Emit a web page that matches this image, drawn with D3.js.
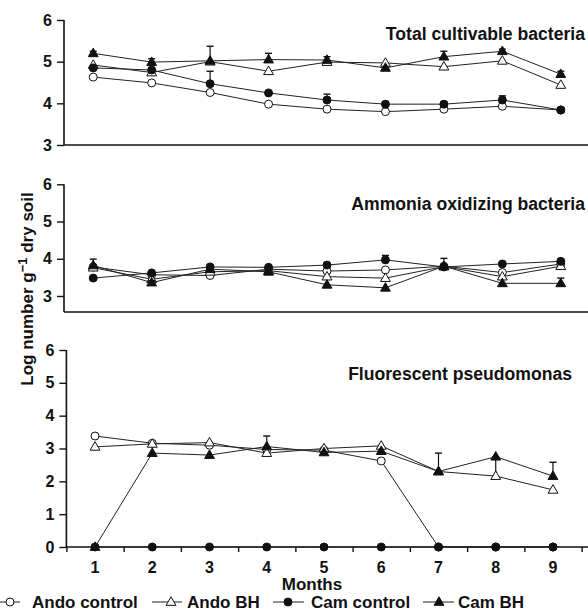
<!DOCTYPE html>
<html>
<head>
<meta charset="utf-8">
<script src="https://cdn.jsdelivr.net/npm/d3@7"></script>
<style>
  html, body { margin: 0; padding: 0; background: #fff; }
  svg { display: block; font-family: "Liberation Sans", Arial, sans-serif; font-weight: bold; }
</style>
</head>
<body>
<svg id="chart" width="588" height="611"></svg>
<script>
// Sampling months
const months = [1, 2, 3, 4, 5, 6, 7, 8, 9];
const seriesNames = ["Ando control", "Ando BH", "Cam control", "Cam BH"];

// Total cultivable bacteria (log number g-1 dry soil)
const totalAndoControl = [4.63, 4.49, 4.26, 3.98, 3.86, 3.80, 3.86, 3.93, 3.84];
const totalAndoBH      = [4.92, 4.74, 5.00, 4.77, 4.99, 4.97, 4.88, 5.02, 4.44];
const totalCamControl  = [4.85, 4.80, 4.47, 4.25, 4.08, 3.98, 3.98, 4.08, 3.84];
const totalCamBH       = [5.20, 4.99, 5.02, 5.05, 5.04, 4.85, 5.12, 5.25, 4.70];
const totalCamControlErr = [0, 0, 0.30, 0, 0.14, 0.06, 0.06, 0.10, 0];
const totalCamBHErr      = [0.05, 0.08, 0.35, 0.15, 0.08, 0, 0.13, 0.05, 0.07];

// Ammonia oxidizing bacteria
const ammoniaAndoControl = [3.78, 3.57, 3.55, 3.72, 3.67, 3.70, 3.80, 3.63, 3.86];
const ammoniaAndoBH      = [3.76, 3.45, 3.65, 3.68, 3.52, 3.48, 3.79, 3.52, 3.80];
const ammoniaCamControl  = [3.48, 3.62, 3.78, 3.77, 3.83, 3.97, 3.78, 3.86, 3.93];
const ammoniaCamBH       = [3.82, 3.36, 3.72, 3.65, 3.30, 3.22, 3.80, 3.34, 3.34];
const ammoniaCamControlErr = [0, 0, 0, 0, 0, 0.12, 0, 0, 0];
const ammoniaCamBHErr      = [0.17, 0.05, 0, 0, 0, 0, 0.21, 0, 0.14];

// Fluorescent pseudomonas
const pseudoAndoControl = [3.38, 3.16, 3.10, 2.97, 2.95, 2.62, 0, 0, 0];
const pseudoAndoBH      = [3.05, 3.14, 3.18, 2.86, 3.00, 3.08, 2.30, 2.16, 1.74];
const pseudoCamControl  = [0, 0, 0, 0, 0, 0, 0, 0, 0];
const pseudoCamBH       = [0, 2.86, 2.80, 3.06, 2.88, 2.92, 2.30, 2.75, 2.16];
const pseudoAndoBHErr   = [0, 0, 0, 0, 0, 0, 0, 0.58, 0];
const pseudoCamBHErr    = [0, 0, 0, 0.32, 0, 0, 0.56, 0, 0.42];

// Axis tick values
const yTicksTop = [3, 4, 5, 6];
const yTicksMid = [3, 4, 5, 6];
const yTicksBottom = [0, 1, 2, 3, 4, 5, 6];

const svg = d3.select("#chart");
const INK = "#111";

// Marker style per series: open circle, open triangle, filled circle, filled triangle
const markerStyle = [
  { shape: "circle", fill: "#fff" },
  { shape: "triangle", fill: "#fff" },
  { shape: "circle", fill: INK },
  { shape: "triangle", fill: INK }
];
const triPath = d3.symbol().type(d3.symbolTriangle).size(42)();

function drawMarker(g, style, x, y) {
  if (style.shape === "circle") {
    g.append("circle").attr("cx", x).attr("cy", y).attr("r", 4)
      .attr("fill", style.fill).attr("stroke", INK).attr("stroke-width", 1);
  } else {
    g.append("path").attr("d", triPath)
      .attr("transform", `translate(${x},${y + 0.5})`)
      .attr("fill", style.fill).attr("stroke", INK).attr("stroke-width", 1);
  }
}

const panels = [
  {
    title: "Total cultivable bacteria", titleX: 585, titleY: 40,
    yDomain: [3, 6], yRange: [145, 20], xRange: [64, 590], yTicks: yTicksTop,
    series: [totalAndoControl, totalAndoBH, totalCamControl, totalCamBH],
    errors: [null, null, totalCamControlErr, totalCamBHErr],
    monthTicks: false
  },
  {
    title: "Ammonia oxidizing bacteria", titleX: 585, titleY: 210,
    yDomain: [2.57, 6], yRange: [312, 184.3], xRange: [64, 590], yTicks: yTicksMid,
    series: [ammoniaAndoControl, ammoniaAndoBH, ammoniaCamControl, ammoniaCamBH],
    errors: [null, null, ammoniaCamControlErr, ammoniaCamBHErr],
    monthTicks: false
  },
  {
    title: "Fluorescent pseudomonas", titleX: 572, titleY: 380,
    yDomain: [0, 6], yRange: [547, 350], xRange: [66.4, 581.6], yTicks: yTicksBottom,
    series: [pseudoAndoControl, pseudoAndoBH, pseudoCamControl, pseudoCamBH],
    errors: [null, pseudoAndoBHErr, null, pseudoCamBHErr],
    monthTicks: true
  }
];

panels.forEach(p => {
  const x = d3.scaleLinear().domain([0.5, 9.5]).range(p.xRange);
  const y = d3.scaleLinear().domain(p.yDomain).range(p.yRange);
  const g = svg.append("g");
  const axisX = p.xRange[0];

  // Y axis
  const yAxis = g.append("g").attr("transform", `translate(${axisX},0)`)
    .call(d3.axisLeft(y).tickValues(p.yTicks).tickFormat(d3.format("d"))
      .tickSize(7).tickPadding(5).tickSizeOuter(0));
  yAxis.select(".domain").attr("stroke", INK).attr("stroke-width", 1.6)
    .attr("d", `M0,${y(p.yTicks[p.yTicks.length - 1])}V${p.yRange[0]}`);
  yAxis.selectAll(".tick line").attr("stroke", INK).attr("stroke-width", 1.4);
  yAxis.selectAll(".tick text").attr("fill", INK)
    .style("font-size", "16px").style("font-weight", "bold")
    .style("font-family", "'Liberation Sans', Arial, sans-serif");

  // X axis baseline
  const baseY = p.yRange[0];
  if (p.monthTicks) {
    const halfTicks = d3.range(0.5, 10, 1);
    const xAxis = g.append("g").attr("transform", `translate(0,${baseY})`)
      .call(d3.axisBottom(x).tickValues(halfTicks).tickFormat("").tickSize(5).tickSizeOuter(0));
    xAxis.select(".domain").attr("stroke", INK).attr("stroke-width", 1.6)
      .attr("d", `M${axisX},0H588`);
    xAxis.selectAll(".tick line").attr("stroke", INK).attr("stroke-width", 1.4);
    g.append("g").selectAll("text").data(months).join("text")
      .attr("x", d => x(d)).attr("y", baseY + 26)
      .attr("text-anchor", "middle").attr("fill", INK)
      .style("font-size", "16px").text(d => d);
  } else {
    g.append("line").attr("x1", axisX).attr("x2", 588)
      .attr("y1", baseY).attr("y2", baseY)
      .attr("stroke", INK).attr("stroke-width", 1.6);
  }

  // Panel title
  g.append("text").attr("x", p.titleX).attr("y", p.titleY)
    .attr("text-anchor", "end").attr("fill", INK)
    .style("font-size", "17.6px").text(p.title);

  // Series: line, error bars, markers
  p.series.forEach((vals, si) => {
    const pts = months.map((m, i) => [x(m), y(vals[i])]);
    g.append("path").attr("d", d3.line()(pts))
      .attr("fill", "none").attr("stroke", "#222").attr("stroke-width", 1);
    const err = p.errors[si];
    if (err) {
      months.forEach((m, i) => {
        if (!err[i]) return;
        const cx = x(m), y0 = y(vals[i]), y1 = y(vals[i] + err[i]);
        g.append("line").attr("x1", cx).attr("x2", cx).attr("y1", y0).attr("y2", y1)
          .attr("stroke", INK).attr("stroke-width", 1.2);
        g.append("line").attr("x1", cx - 3.5).attr("x2", cx + 3.5).attr("y1", y1).attr("y2", y1)
          .attr("stroke", INK).attr("stroke-width", 1.4);
      });
    }
    pts.forEach(([px, py]) => drawMarker(g, markerStyle[si], px, py));
  });
});

// Shared y-axis title
const yTitle = svg.append("text")
  .attr("transform", "translate(33,289) rotate(-90)")
  .attr("text-anchor", "middle").attr("fill", INK)
  .style("font-size", "17px");
yTitle.append("tspan").text("Log number g");
yTitle.append("tspan").attr("dy", -6).style("font-size", "13px").text("\u22121");
yTitle.append("tspan").attr("dy", 6).text(" dry soil");

// X-axis title
svg.append("text").attr("x", 312).attr("y", 590)
  .attr("text-anchor", "middle").attr("fill", INK)
  .style("font-size", "17px").text("Months");

// Legend
const legendItems = [
  { lineX: [0, 20], mx: 10, tx: 32 },
  { lineX: [152, 182], mx: 171, tx: 187 },
  { lineX: [273, 304], mx: 288, tx: 311 },
  { lineX: [423, 454], mx: 439, tx: 458 }
];
const legendY = 602;
const lg = svg.append("g");
legendItems.forEach((it, i) => {
  lg.append("line").attr("x1", it.lineX[0]).attr("x2", it.lineX[1])
    .attr("y1", legendY).attr("y2", legendY)
    .attr("stroke", "#222").attr("stroke-width", 1);
  drawMarker(lg, markerStyle[i], it.mx, legendY);
  lg.append("text").attr("x", it.tx).attr("y", legendY + 6)
    .attr("fill", INK).style("font-size", "17px").text(seriesNames[i]);
});
</script>
</body>
</html>
